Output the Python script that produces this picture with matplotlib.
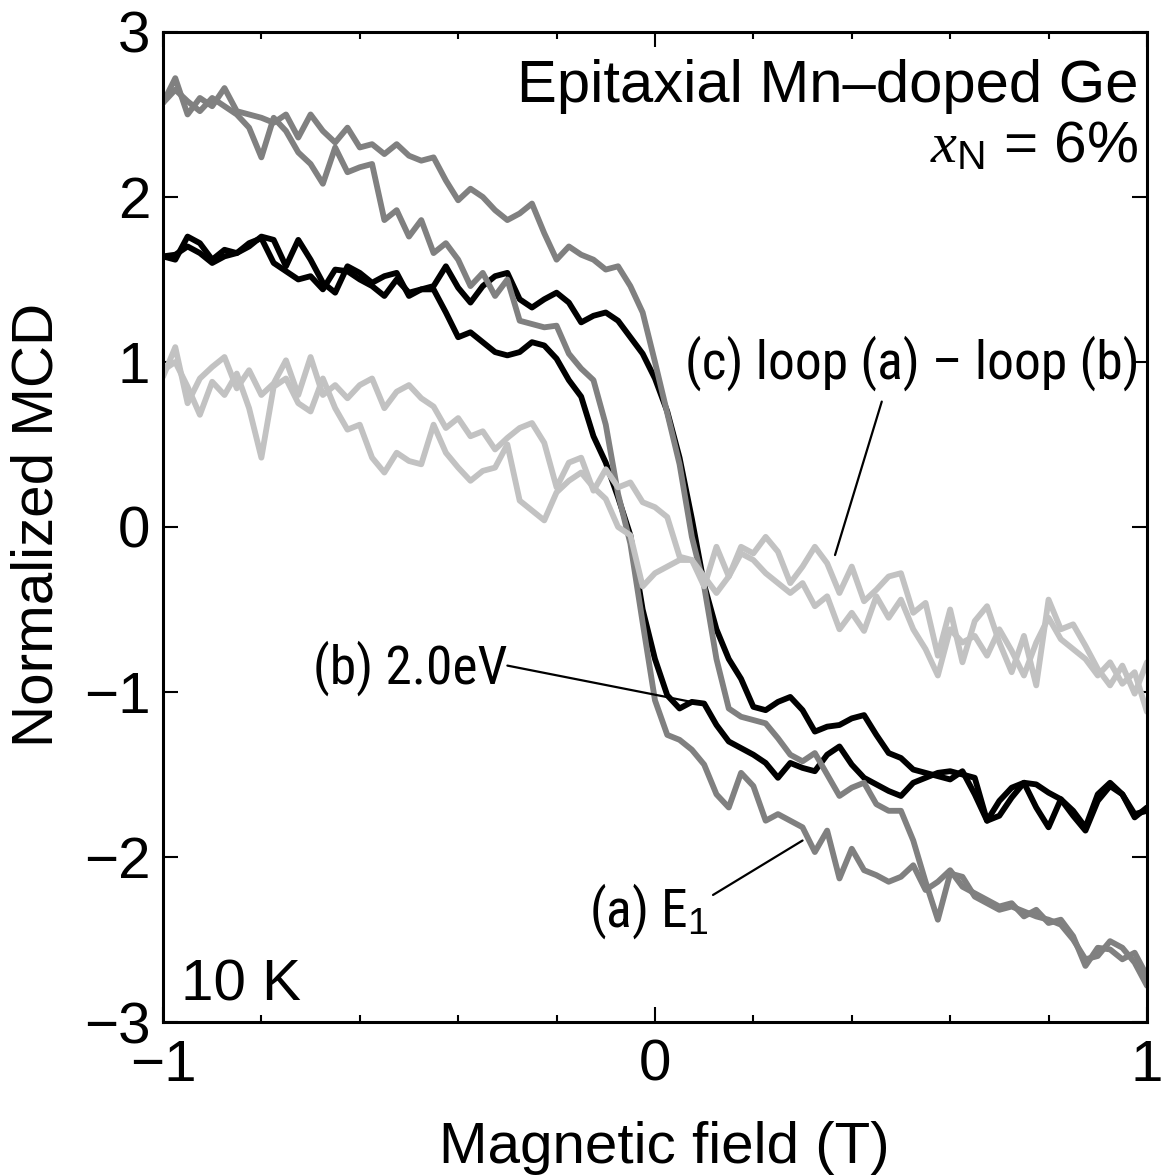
"""
Normalized MCD hysteresis loops of epitaxial Mn-doped Ge at 10 K.
"""

import matplotlib
matplotlib.use("Agg")
import matplotlib.pyplot as plt
from matplotlib import font_manager
from matplotlib.ticker import MultipleLocator

plt.rcParams["font.family"] = ["Liberation Sans", "DejaVu Sans"]
plt.rcParams["mathtext.fontset"] = "custom"
plt.rcParams["mathtext.it"] = "Liberation Serif:italic"
plt.rcParams["mathtext.rm"] = "Liberation Sans"

# magnetic field sweep (T)
field = [
    -1.000, -0.975, -0.950, -0.925, -0.900, -0.875, -0.850, -0.825, -0.800, -0.775,
    -0.750, -0.725, -0.700, -0.675, -0.650, -0.625, -0.600, -0.575, -0.550, -0.525,
    -0.500, -0.475, -0.450, -0.425, -0.400, -0.375, -0.350, -0.325, -0.300, -0.275,
    -0.250, -0.225, -0.200, -0.175, -0.150, -0.125, -0.100, -0.075, -0.050, -0.025,
    0.000, 0.025, 0.050, 0.075, 0.100, 0.125, 0.150, 0.175, 0.200, 0.225,
    0.250, 0.275, 0.300, 0.325, 0.350, 0.375, 0.400, 0.425, 0.450, 0.475,
    0.500, 0.525, 0.550, 0.575, 0.600, 0.625, 0.650, 0.675, 0.700, 0.725,
    0.750, 0.775, 0.800, 0.825, 0.850, 0.875, 0.900, 0.925, 0.950, 0.975,
    1.000,
]

# (a) E1 loop, two branches
a_up = [
    2.57, 2.72, 2.50, 2.60, 2.55, 2.66, 2.52, 2.50, 2.48, 2.45,
    2.50, 2.36, 2.50, 2.40, 2.33, 2.42, 2.30, 2.32, 2.26, 2.32,
    2.25, 2.22, 2.24, 2.10, 1.98, 2.05, 2.00, 1.92, 1.86, 1.90,
    1.96, 1.78, 1.62, 1.70, 1.65, 1.62, 1.56, 1.58, 1.46, 1.30,
    1.00, 0.69, 0.38, -0.06, -0.36, -0.80, -1.10, -1.15, -1.17, -1.19,
    -1.28, -1.38, -1.42, -1.37, -1.50, -1.63, -1.58, -1.55, -1.68, -1.72,
    -1.72, -1.90, -2.15, -2.38, -2.10, -2.12, -2.24, -2.28, -2.32, -2.30,
    -2.33, -2.36, -2.38, -2.41, -2.50, -2.62, -2.60, -2.51, -2.55, -2.64,
    -2.78,
]
a_down = [
    2.57, 2.65, 2.58, 2.52, 2.60, 2.55, 2.50, 2.42, 2.24, 2.48,
    2.40, 2.27, 2.20, 2.08, 2.30, 2.15, 2.18, 2.20, 1.86, 1.92,
    1.76, 1.86, 1.66, 1.72, 1.62, 1.46, 1.54, 1.40, 1.50, 1.25,
    1.23, 1.21, 1.22, 1.05, 0.96, 0.89, 0.62, 0.20, -0.10, -0.58,
    -1.05, -1.26, -1.29, -1.35, -1.44, -1.62, -1.70, -1.49, -1.57, -1.78,
    -1.74, -1.78, -1.82, -1.97, -1.84, -2.13, -1.95, -2.08, -2.11, -2.15,
    -2.12, -2.05, -2.20, -2.15, -2.08, -2.18, -2.22, -2.26, -2.30, -2.28,
    -2.36, -2.32, -2.40, -2.38, -2.48, -2.66, -2.55, -2.56, -2.62, -2.58,
    -2.72,
]

# (b) 2.0 eV loop
b_up = [
    1.64, 1.62, 1.76, 1.72, 1.62, 1.68, 1.66, 1.70, 1.76, 1.74,
    1.58, 1.74, 1.62, 1.48, 1.42, 1.58, 1.54, 1.48, 1.52, 1.54,
    1.40, 1.44, 1.46, 1.58, 1.45, 1.36, 1.46, 1.52, 1.54, 1.38,
    1.33, 1.38, 1.42, 1.36, 1.24, 1.28, 1.30, 1.25, 1.15, 1.05,
    0.90, 0.70, 0.42, 0.05, -0.35, -0.62, -0.80, -0.92, -1.09, -1.11,
    -1.06, -1.03, -1.11, -1.24, -1.21, -1.20, -1.16, -1.14, -1.26, -1.37,
    -1.40, -1.47, -1.49, -1.51, -1.53, -1.48, -1.62, -1.78, -1.75, -1.64,
    -1.55, -1.56, -1.61, -1.65, -1.72, -1.82, -1.62, -1.55, -1.62, -1.74,
    -1.72,
]
b_down = [
    1.64, 1.65, 1.70, 1.66, 1.60, 1.64, 1.66, 1.72, 1.75, 1.60,
    1.55, 1.50, 1.52, 1.44, 1.56, 1.55, 1.50, 1.46, 1.40, 1.50,
    1.42, 1.44, 1.44, 1.30, 1.15, 1.18, 1.12, 1.06, 1.04, 1.06,
    1.12, 1.10, 1.02, 0.89, 0.79, 0.55, 0.39, 0.18, -0.05, -0.50,
    -0.80, -1.02, -1.10, -1.06, -1.07, -1.20, -1.30, -1.34, -1.38, -1.43,
    -1.52, -1.43, -1.46, -1.48, -1.38, -1.33, -1.44, -1.52, -1.56, -1.60,
    -1.63, -1.55, -1.52, -1.49, -1.48, -1.50, -1.52, -1.78, -1.66, -1.58,
    -1.55, -1.70, -1.82, -1.65, -1.75, -1.84, -1.66, -1.57, -1.62, -1.76,
    -1.70,
]

# (c) loop (a) - loop (b)
c_up = [
    0.91, 1.09, 0.75, 0.90, 0.97, 1.03, 0.84, 0.95, 0.80, 0.87,
    1.01, 0.80, 1.03, 0.80, 0.86, 0.78, 0.86, 0.90, 0.72, 0.82,
    0.86, 0.78, 0.73, 0.60, 0.66, 0.55, 0.58, 0.47, 0.54, 0.60,
    0.63, 0.51, 0.24, 0.39, 0.42, 0.22, 0.35, 0.24, 0.27, 0.15,
    0.12, 0.06, -0.18, -0.20, -0.36, -0.12, -0.30, -0.12, -0.16, -0.06,
    -0.15, -0.34, -0.24, -0.12, -0.22, -0.40, -0.24, -0.45, -0.38, -0.30,
    -0.28, -0.52, -0.46, -0.78, -0.50, -0.82, -0.57, -0.48, -0.70, -0.88,
    -0.66, -0.96, -0.44, -0.62, -0.59, -0.72, -0.86, -0.96, -0.84, -1.01,
    -0.82,
]
c_down = [
    0.95, 1.00, 0.85, 0.68, 0.88, 0.80, 0.93, 0.72, 0.42, 0.85,
    0.90, 0.75, 0.70, 0.90, 0.72, 0.59, 0.62, 0.42, 0.33, 0.45,
    0.40, 0.38, 0.62, 0.45, 0.36, 0.28, 0.34, 0.36, 0.50, 0.16,
    0.10, 0.04, 0.21, 0.28, 0.33, 0.24, 0.17, 0.00, -0.05, -0.36,
    -0.28, -0.24, -0.20, -0.20, -0.30, -0.40, -0.30, -0.16, -0.20, -0.28,
    -0.34, -0.40, -0.34, -0.48, -0.42, -0.62, -0.52, -0.63, -0.42, -0.55,
    -0.44, -0.62, -0.74, -0.90, -0.62, -0.70, -0.66, -0.78, -0.62, -0.75,
    -0.90, -0.70, -0.55, -0.68, -0.74, -0.80, -0.90, -0.82, -0.95, -0.88,
    -1.12,
]

x_ticks = [-1, 0, 1]
x_tick_labels = ["\u22121", "0", "1"]
y_ticks = [-3, -2, -1, 0, 1, 2, 3]
y_tick_labels = ["\u22123", "\u22122", "\u22121", "0", "1", "2", "3"]

FS = 42

# narrow face for the curve labels, if one is installed
installed = {f.name for f in font_manager.fontManager.ttflist}
narrow_names = [n for n in ("Liberation Sans Narrow", "Roboto Condensed",
                            "DejaVu Sans Condensed", "Arial Narrow")
                if n in installed]
if narrow_names:
    NARROW = dict(family=[narrow_names[0], "DejaVu Sans"], fontsize=38.5)
else:
    # no narrow face: shrink the size so the widths stay close
    NARROW = dict(family=["Liberation Sans", "DejaVu Sans"], fontsize=35)

fig = plt.figure(figsize=(11.65, 11.75), dpi=100)
ax = fig.add_axes([0.1399, 0.1302, 0.8446, 0.8426])

line_kw = dict(lw=4.2, solid_joinstyle="round", solid_capstyle="round")
ax.plot(field, b_up, color="black", **line_kw)
ax.plot(field, b_down, color="black", **line_kw)
ax.plot(field, a_up, color="#808080", **line_kw)
ax.plot(field, a_down, color="#808080", **line_kw)
ax.plot(field, c_up, color="#c2c2c2", **line_kw)
ax.plot(field, c_down, color="#c2c2c2", **line_kw)

ax.set_xlim(-1, 1)
ax.set_ylim(-3, 3)
ax.set_xticks(x_ticks)
ax.set_xticklabels(x_tick_labels)
ax.set_yticks(y_ticks)
ax.set_yticklabels(y_tick_labels)
ax.xaxis.set_minor_locator(MultipleLocator(0.2))

ax.tick_params(which="both", direction="in", top=True, right=True, width=1.5)
ax.tick_params(which="major", length=11)
ax.tick_params(which="minor", length=5)
ax.tick_params(axis="x", which="major", labelsize=FS, pad=12)
ax.tick_params(axis="y", which="major", labelsize=FS, pad=9)
for sp in ax.spines.values():
    sp.set_linewidth(2.2)

fig.text(664 / 1165, 1 - 1163 / 1175, "Magnetic field (T)", fontsize=FS,
         ha="center", va="baseline")
fig.text(38 / 1165, 1 - 525 / 1175, "Normalized MCD", fontsize=FS,
         ha="center", va="center", rotation=90)

ax.text(0.982, 2.576, "Epitaxial Mn\u2013doped Ge", fontsize=43,
        ha="right", va="baseline")
ax.text(0.982, 2.21, r"$x_\mathrm{N}$ = 6%", fontsize=FS,
        ha="right", va="baseline")
ax.text(-0.963, -2.87, "10 K", fontsize=FS, ha="left", va="baseline")

ax.text(0.986, 0.90, "(c) loop (a) \u2013 loop (b)", ha="right",
        va="baseline", **NARROW)
ax.text(-0.695, -0.95, "(b) 2.0eV", ha="left", va="baseline", **NARROW)
ax.text(-0.134, -2.42, "(a) E$_1$", ha="left", va="baseline", **NARROW)

pointer = dict(arrowstyle="-", lw=1.6, color="black", shrinkA=0, shrinkB=0)
ax.annotate("", xy=(0.366, -0.17), xytext=(0.461, 0.76), arrowprops=pointer)
ax.annotate("", xy=(0.091, -1.07), xytext=(-0.300, -0.84), arrowprops=pointer)
ax.annotate("", xy=(0.30, -1.90), xytext=(0.118, -2.23), arrowprops=pointer)

fig.savefig("out.png", dpi=100)
